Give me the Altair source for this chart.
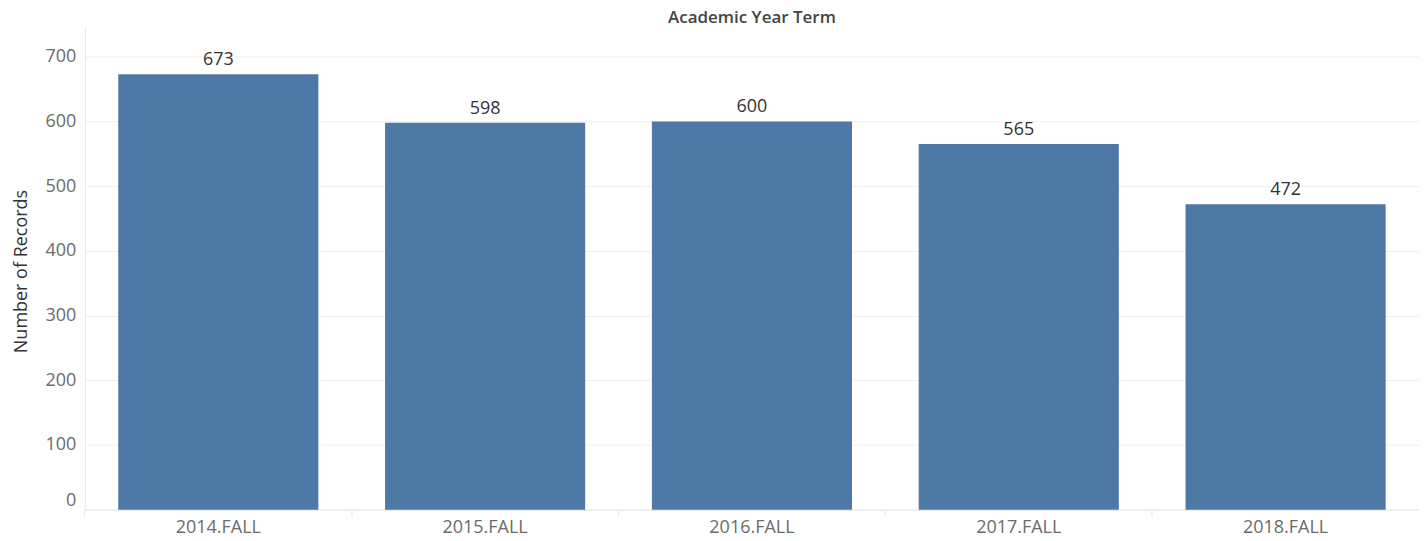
import altair as alt
import pandas as pd

terms = ["2014.FALL", "2015.FALL", "2016.FALL", "2017.FALL", "2018.FALL"]
records = [673, 598, 600, 565, 472]

df = pd.DataFrame({"term": terms, "records": records})

FONT = "Open Sans"

base = alt.Chart(df).encode(
    x=alt.X(
        "term:N",
        sort=terms,
        title=None,
        scale=alt.Scale(paddingInner=0.25, paddingOuter=0.125),
        axis=alt.Axis(
            labelAngle=0,
            labelFontSize=18,
            labelColor="#6b6b6b",
            labelFont=FONT,
            labelPadding=2,
            ticks=True,
            bandPosition=-1 / 6,
            tickColor="#e6e6e6",
            tickSize=7,
            domain=True,
            domainColor="#e6e6e6",
            grid=False,
        ),
    ),
    y=alt.Y(
        "records:Q",
        title="Number of Records",
        scale=alt.Scale(domain=[0, 747], nice=False),
        axis=alt.Axis(
            values=[0, 100, 200, 300, 400, 500, 600, 700],
            labelFontSize=18,
            labelColor="#6b6b6b",
            labelFont=FONT,
            labelPadding=9,
            labelFlush=True,
            ticks=False,
            domain=True,
            domainColor="#e6e6e6",
            gridColor="#efefef",
            titleFont=FONT,
            titleFontSize=18,
            titleFontWeight="normal",
            titleColor="#333333",
            titleX=-63,
            titleY=245,
            titleBaseline="middle",
        ),
    ),
)

bars = base.mark_bar(color="#4e79a7")
labels = base.mark_text(
    baseline="alphabetic", dy=-9, fontSize=18, font=FONT, color="#333333"
).encode(text="records:Q")

chart = (
    alt.layer(bars, labels)
    .properties(
        width=1336,
        height=484,
        title=alt.TitleParams(
            "Academic Year Term",
            font=FONT,
            fontSize=17,
            fontWeight=600,
            color="#444444",
            anchor="middle",
            offset=-1,
        ),
        autosize=alt.AutoSizeParams(type="none"),
        padding={"left": 77, "top": 18, "right": 0, "bottom": 31},
    )
    .configure_view(stroke=None)
)

chart.save("out.html", embed_options={"renderer": "svg", "actions": False})
